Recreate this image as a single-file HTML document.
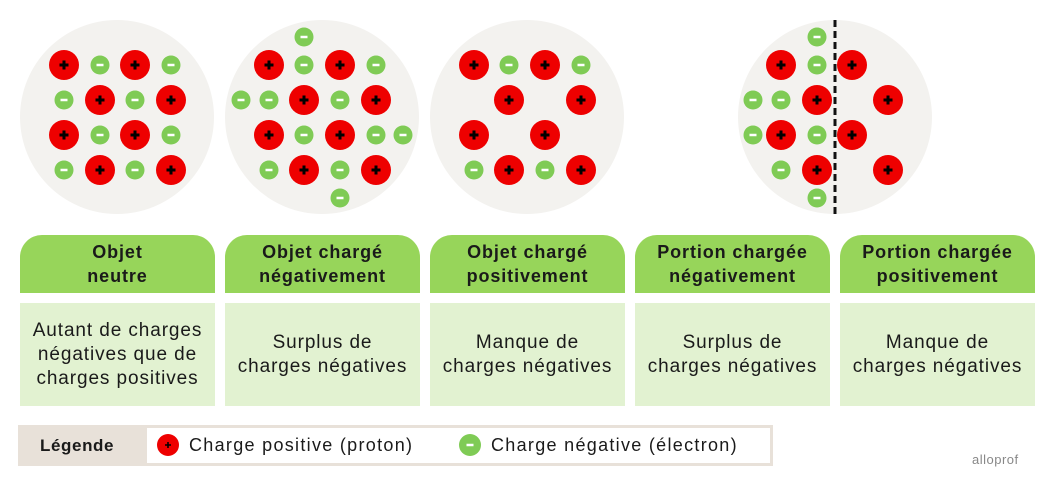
<!DOCTYPE html>
<html><head><meta charset="utf-8"><style>
body{margin:0;width:1056px;height:485px;background:#fff;position:relative;overflow:hidden;font-family:"Liberation Sans",sans-serif;color:#1a1a1a}
.h,.b{position:absolute;width:195px;display:flex;align-items:center;justify-content:center;text-align:center;line-height:24px}
.h{top:235px;height:58px;background:#97d55a;border-radius:22px 22px 0 0;font-weight:bold;font-size:18px;letter-spacing:0.9px}
.b{top:303px;height:103px;background:#e2f2d1;font-size:19px;letter-spacing:0.9px}
</style></head><body>
<svg width="1056" height="230" style="position:absolute;left:0;top:0">
<defs>
<g id="P"><circle r="15" fill="#ee0000"/><path d="M-4.5 0H4.5M0 -4.5V4.5" stroke="#000" stroke-width="3"/></g>
<g id="E"><circle r="9.5" fill="#7fcb55"/><path d="M-3.5 0H3.5" stroke="#fff" stroke-width="2.5"/></g>
</defs>
<g fill="#f3f2ef"><circle cx="117" cy="117" r="97"/><circle cx="322" cy="117" r="97"/><circle cx="527" cy="117" r="97"/><circle cx="835" cy="117" r="97"/></g>
<use href="#P" x="64" y="65"/><use href="#E" x="100" y="65"/><use href="#P" x="135" y="65"/><use href="#E" x="171" y="65"/>
<use href="#E" x="64" y="100"/><use href="#P" x="100" y="100"/><use href="#E" x="135" y="100"/><use href="#P" x="171" y="100"/>
<use href="#P" x="64" y="135"/><use href="#E" x="100" y="135"/><use href="#P" x="135" y="135"/><use href="#E" x="171" y="135"/>
<use href="#E" x="64" y="170"/><use href="#P" x="100" y="170"/><use href="#E" x="135" y="170"/><use href="#P" x="171" y="170"/>
<use href="#E" x="304" y="37"/>
<use href="#P" x="269" y="65"/><use href="#E" x="304" y="65"/><use href="#P" x="340" y="65"/><use href="#E" x="376" y="65"/>
<use href="#E" x="241" y="100"/><use href="#E" x="269" y="100"/><use href="#P" x="304" y="100"/><use href="#E" x="340" y="100"/><use href="#P" x="376" y="100"/>
<use href="#P" x="269" y="135"/><use href="#E" x="304" y="135"/><use href="#P" x="340" y="135"/><use href="#E" x="376" y="135"/><use href="#E" x="403" y="135"/>
<use href="#E" x="269" y="170"/><use href="#P" x="304" y="170"/><use href="#E" x="340" y="170"/><use href="#P" x="376" y="170"/>
<use href="#E" x="340" y="198"/>
<use href="#P" x="474" y="65"/><use href="#E" x="509" y="65"/><use href="#P" x="545" y="65"/><use href="#E" x="581" y="65"/>
<use href="#P" x="509" y="100"/><use href="#P" x="581" y="100"/>
<use href="#P" x="474" y="135"/><use href="#P" x="545" y="135"/>
<use href="#E" x="474" y="170"/><use href="#P" x="509" y="170"/><use href="#E" x="545" y="170"/><use href="#P" x="581" y="170"/>
<use href="#E" x="817" y="37"/>
<use href="#P" x="781" y="65"/><use href="#E" x="817" y="65"/><use href="#P" x="852" y="65"/>
<use href="#E" x="753" y="100"/><use href="#E" x="781" y="100"/><use href="#P" x="817" y="100"/><use href="#P" x="888" y="100"/>
<use href="#E" x="753" y="135"/><use href="#P" x="781" y="135"/><use href="#E" x="817" y="135"/><use href="#P" x="852" y="135"/>
<use href="#E" x="781" y="170"/><use href="#P" x="817" y="170"/><use href="#P" x="888" y="170"/>
<use href="#E" x="817" y="198"/>
<line x1="835" y1="20" x2="835" y2="215" stroke="#111" stroke-width="3" stroke-dasharray="7 4"/>
</svg>
<div class="h" style="left:20px">Objet<br>neutre</div>
<div class="h" style="left:225px">Objet chargé<br>négativement</div>
<div class="h" style="left:430px">Objet chargé<br>positivement</div>
<div class="h" style="left:635px">Portion chargée<br>négativement</div>
<div class="h" style="left:840px">Portion chargée<br>positivement</div>
<div class="b" style="left:20px">Autant de charges<br>négatives que de<br>charges positives</div>
<div class="b" style="left:225px">Surplus de<br>charges négatives</div>
<div class="b" style="left:430px">Manque de<br>charges négatives</div>
<div class="b" style="left:635px">Surplus de<br>charges négatives</div>
<div class="b" style="left:840px">Manque de<br>charges négatives</div>
<div style="position:absolute;left:18px;top:425px;width:755px;height:41px;background:#e8e1d9"></div>
<div style="position:absolute;left:40px;top:425px;height:41px;line-height:41px;font-size:17px;font-weight:bold;letter-spacing:0.6px">Légende</div>
<div style="position:absolute;left:147px;top:428px;width:623px;height:35px;background:#fff"></div>
<svg width="1056" height="485" style="position:absolute;left:0;top:0">
<circle cx="168" cy="445" r="11" fill="#ee0000"/><path d="M165 445H171M168 442V448" stroke="#000" stroke-width="1.6"/>
<circle cx="470" cy="445" r="11" fill="#7fcb55"/><path d="M466.5 445H473.5" stroke="#fff" stroke-width="2.5"/>
</svg>
<div style="position:absolute;left:189px;top:432px;font-size:18px;line-height:26px;letter-spacing:1.3px">Charge positive (proton)</div>
<div style="position:absolute;left:491px;top:432px;font-size:18px;line-height:26px;letter-spacing:1.3px">Charge négative (électron)</div>
<div style="position:absolute;left:972px;top:452px;font-size:13px;color:#888;letter-spacing:0.5px">alloprof</div>
</body></html>
